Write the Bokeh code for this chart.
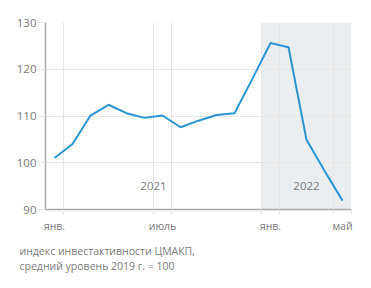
from bokeh.plotting import figure
from bokeh.models import (FixedTicker, BoxAnnotation, Title, Range1d,
                          ColumnDataSource)
from bokeh.core.properties import value
from bokeh.embed import file_html
from bokeh.resources import INLINE

# ---- data (monthly, Jan 2021 .. May 2022) ----
month_idx = list(range(17))
index_values = [101.0, 104.0, 110.1, 112.4, 110.6, 109.6, 110.1, 107.6, 109.0,
                110.2, 110.6, 118.0, 125.6, 124.7, 104.9, 98.3, 91.9]
tick_months = [0, 6, 12, 16]
tick_labels = ["янв.", "июль", "янв.", "май"]
month_bounds = [0.5, 5.5, 6.5, 11.5, 12.5, 15.5, 16.5]
year_labels = ["2021", "2022"]
year_pos = [5.5, 14.0]
y_ticks = [90, 100, 110, 120, 130]
caption = ["индекс инвестактивности ЦМАКП,", "средний уровень 2019 г. = 100"]

FONT = "Open Sans"
TXT = "#7a7a7a"
GRID = "#e6e6e6"

p = figure(width=371, height=288, output_backend="svg", toolbar_location=None,
           x_range=Range1d(-0.5, 16.5), y_range=Range1d(90, 130),
           min_border_left=45, min_border_right=20, min_border_top=22,
           min_border_bottom=79)
p.outline_line_color = None
p.background_fill_color = "white"
p.border_fill_color = "white"

# shaded 2022 region
p.add_layout(BoxAnnotation(left=11.5, right=16.5, fill_color="#ebeef0",
                           fill_alpha=1.0, line_color=None, level="image"))

# grids
p.xgrid.ticker = FixedTicker(ticks=month_bounds)
p.xgrid.grid_line_color = GRID
p.ygrid.ticker = FixedTicker(ticks=y_ticks)
p.ygrid.grid_line_color = GRID

# y axis
p.yaxis.ticker = FixedTicker(ticks=y_ticks)
p.yaxis.axis_line_color = "#a8a8a8"
p.yaxis.axis_line_width = 1.5
p.yaxis.major_tick_out = 7
p.yaxis.major_tick_in = 0
p.yaxis.major_tick_line_color = GRID
p.yaxis.minor_tick_line_color = None
p.yaxis.major_label_standoff = 2
p.yaxis.major_label_text_font = FONT
p.yaxis.major_label_text_font_size = "11.5px"
p.yaxis.major_label_text_color = TXT

# x axis: labels at mid-month, minor ticks at month bounds
xa = p.xaxis[0]
xa.ticker = FixedTicker(ticks=tick_months, minor_ticks=month_bounds)
xa.major_label_overrides = {m: l for m, l in zip(tick_months, tick_labels)}
xa.axis_line_color = "#a8a8a8"
xa.axis_line_width = 1.5
xa.major_tick_line_color = None
xa.major_tick_out = 0
xa.major_tick_in = 0
xa.minor_tick_out = 5
xa.minor_tick_in = 0
xa.minor_tick_line_color = GRID
xa.major_label_standoff = 4
xa.major_label_text_font = FONT
xa.major_label_text_font_size = "10.5px"
xa.major_label_text_color = TXT

# line
src = ColumnDataSource(dict(x=month_idx, y=index_values))
p.line("x", "y", source=src, line_color="#2a95d2", line_width=2)

# year labels
p.text(x=year_pos, y=[95, 95], text=year_labels, text_font=value(FONT),
       text_font_size="11.5px", text_color=TXT, text_align="center",
       text_baseline="middle")

# caption as a two-line title below the axis
t = Title(text="\n".join(caption), align="left", offset=-26, text_font=FONT,
          text_font_size="10.5px", text_font_style="normal",
          text_color=TXT, standoff=14, text_line_height=1.1)
p.add_layout(t, "below")

open("out.html", "w").write(file_html(p, INLINE))
